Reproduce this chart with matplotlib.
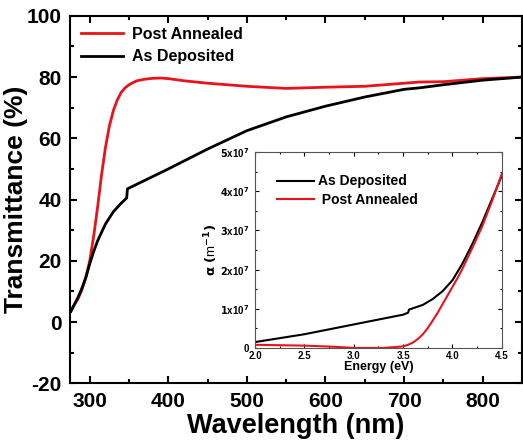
import matplotlib
matplotlib.use("Agg")
import matplotlib.pyplot as plt
import matplotlib.ticker as ticker

plt.rcParams["font.family"] = ["Liberation Sans", "DejaVu Sans"]
plt.rcParams["font.weight"] = "bold"
plt.rcParams["mathtext.default"] = "bf"
plt.rcParams["axes.unicode_minus"] = False

# main panel: transmittance vs wavelength
wl_post = [276, 280, 285, 290, 295, 300, 305, 310, 315, 320, 325, 330, 335, 340,
           345, 350, 355, 360, 370, 380, 390, 400, 420, 450, 500, 550, 600, 650,
           700, 720, 750, 800, 850]
t_post = [3.5, 5.5, 7.5, 10.5, 14.5, 20, 28, 37.5, 48, 57, 64, 69, 72.5, 75,
          76.5, 77.5, 78.2, 78.8, 79.3, 79.6, 79.7, 79.5, 78.8, 78, 77, 76.3,
          76.7, 77, 78, 78.4, 78.5, 79.5, 80]

wl_dep = [276, 280, 285, 290, 295, 300, 305, 310, 320, 330, 340, 347, 348, 360,
          380, 400, 450, 500, 550, 600, 650, 700, 720, 750, 800, 850]
t_dep = [3.5, 5.5, 8, 11, 14.5, 19, 23, 26.5, 32, 36, 38.8, 40.5, 43.5, 45,
         47.5, 50, 56.5, 62.5, 67, 70.5, 73.5, 76, 76.5, 77.5, 79, 80]

# inset: absorption coefficient vs energy
e_dep = [2.0, 2.5, 3.0, 3.5, 3.55, 3.56, 3.7, 3.8, 3.9, 4.0, 4.1, 4.2, 4.3, 4.4, 4.5]
a_dep = [1.5e6, 3.5e6, 6e6, 8.5e6, 9e6, 9.8e6, 11e6, 12.5e6, 14.5e6, 17.3e6,
         21.5e6, 26.5e6, 32e6, 38e6, 44e6]

e_post = [2.0, 2.5, 2.8, 3.0, 3.3, 3.5, 3.55, 3.6, 3.65, 3.7, 3.75, 3.8, 3.85,
          3.9, 3.95, 4.0, 4.05, 4.1, 4.2, 4.3, 4.4, 4.5]
a_post = [0.8e6, 0.6e6, 0.3e6, 0, 0, 0.4e6, 0.8e6, 1.4e6, 2.3e6, 3.5e6, 5.1e6,
          7e6, 9e6, 11.2e6, 13.4e6, 15.6e6, 17.8e6, 20.2e6, 25.5e6, 31e6,
          37.5e6, 44.5e6]

RED = "#e8141b"

fig = plt.figure(figsize=(5.23, 4.41), dpi=100)
ax = fig.add_axes([0.134, 0.131, 0.864, 0.833])

ax.plot(wl_post, t_post, color=RED, lw=2, label="Post Annealed")
ax.plot(wl_dep, t_dep, color="black", lw=2, label="As Deposited")
ax.set_xlim(275, 850)
ax.set_ylim(-20, 100)
ax.xaxis.set_major_locator(ticker.MultipleLocator(100))
ax.xaxis.set_minor_locator(ticker.MultipleLocator(50))
ax.yaxis.set_major_locator(ticker.MultipleLocator(20))
ax.yaxis.set_minor_locator(ticker.MultipleLocator(10))
ax.tick_params(which="both", direction="in", top=True, right=True, width=1.5)
ax.tick_params(which="major", length=5, labelsize=15, pad=6)
ax.tick_params(which="minor", length=3)
for lab in ax.get_xticklabels() + ax.get_yticklabels():
    lab.set_fontweight("bold")
for s in ax.spines.values():
    s.set_linewidth(1.5)
ax.set_xlabel("Wavelength (nm)", fontsize=19.5, fontweight="bold", labelpad=2)
ax.set_ylabel("Transmittance (%)", fontsize=19, fontweight="bold", labelpad=-1)
ax.legend(loc="upper left", frameon=False, handlelength=2.6,
          borderaxespad=0.3, handletextpad=0.6, labelspacing=0.45,
          prop={"weight": "bold", "size": 11.5})

# inset
ins = fig.add_axes([0.4876, 0.211, 0.472, 0.444])
ins.plot(e_dep, a_dep, color="black", lw=1.5, label="As Deposited")
ins.plot(e_post, a_post, color=RED, lw=1.5, label=" Post Annealed")
ins.set_xlim(2.0, 4.5)
ins.set_ylim(0, 5e7)
ins.xaxis.set_major_locator(ticker.MultipleLocator(0.5))
ins.xaxis.set_minor_locator(ticker.MultipleLocator(0.25))
ins.yaxis.set_major_locator(ticker.MultipleLocator(1e7))
ins.yaxis.set_minor_locator(ticker.MultipleLocator(0.5e7))
ins.xaxis.set_major_formatter(ticker.FormatStrFormatter("%.1f"))
ins.yaxis.set_major_formatter(ticker.FuncFormatter(
    lambda v, p: "0" if v == 0 else r"$%d\mathregular{x10}^{7}$" % round(v / 1e7)))
ins.tick_params(which="both", direction="in", top=True, right=True, width=0.8)
ins.tick_params(which="major", length=3, labelsize=7, pad=2)
ins.tick_params(axis="y", which="major", pad=4)
ins.tick_params(which="minor", length=1.5)
for lab in ins.get_xticklabels() + ins.get_yticklabels():
    lab.set_fontweight("bold")
for s in ins.spines.values():
    s.set_linewidth(0.8)
    s.set_color("#555555")
ins.set_xlabel("Energy (eV)", fontsize=9, fontweight="bold", labelpad=0)
ins.set_ylabel(r"$\alpha\ (\mathregular{m}^{-1})$", fontsize=9.5, labelpad=0)
ins.legend(loc="upper left", frameon=False, bbox_to_anchor=(0.04, 0.95),
           handlelength=2.6, handletextpad=0.3, labelspacing=0.3,
           prop={"weight": "bold", "size": 10})

fig.savefig("out.png", dpi=100)
